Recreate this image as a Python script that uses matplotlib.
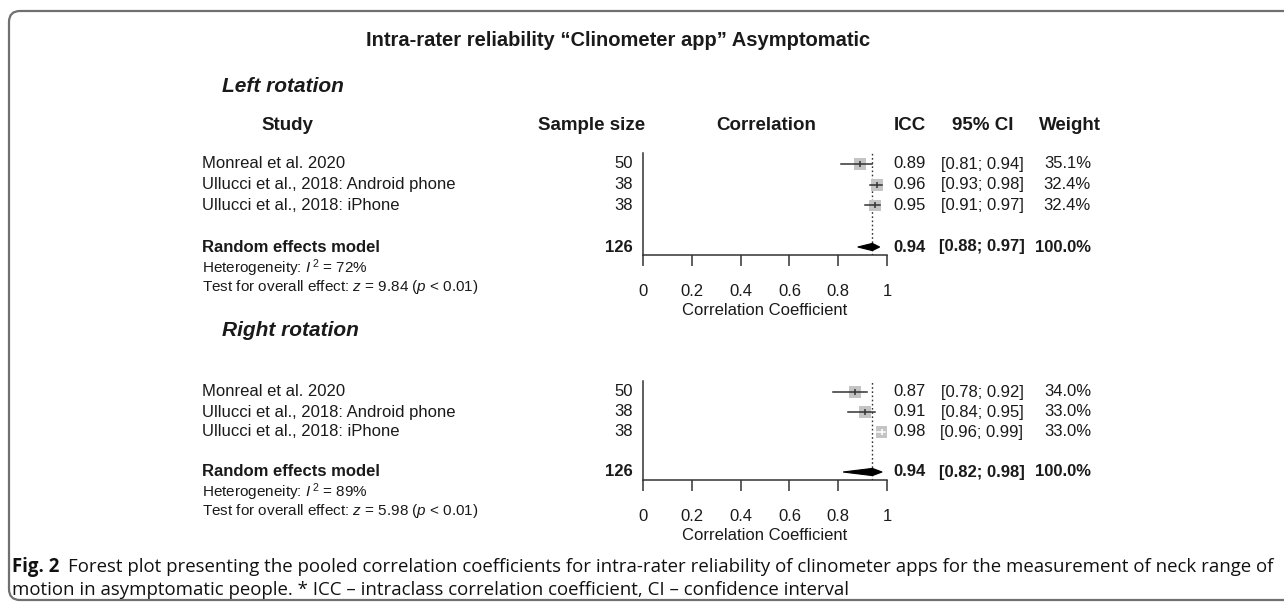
import numpy as np
import matplotlib.pyplot as plt
from matplotlib.patches import FancyBboxPatch, Polygon

plt.rcParams['font.family'] = ['Liberation Sans', 'DejaVu Sans']
plt.rcParams['mathtext.fontset'] = 'custom'
plt.rcParams['mathtext.rm'] = 'Liberation Sans'
plt.rcParams['mathtext.it'] = 'Liberation Sans:italic'

# data
studies = ["Monreal et al. 2020", "Ullucci et al., 2018: Android phone", "Ullucci et al., 2018: iPhone"]

n_left = [50, 38, 38]
icc_left = [0.89, 0.96, 0.95]
lo_left = [0.81, 0.93, 0.91]
hi_left = [0.94, 0.98, 0.97]
w_left = [35.1, 32.4, 32.4]
pooled_left = [0.94, 0.88, 0.97]
i2_left = 72
z_left = 9.84

n_right = [50, 38, 38]
icc_right = [0.87, 0.91, 0.98]
lo_right = [0.78, 0.84, 0.96]
hi_right = [0.92, 0.95, 0.99]
w_right = [34.0, 33.0, 33.0]
pooled_right = [0.94, 0.82, 0.98]
i2_right = 89
z_right = 5.98

total_weight = 100.0
ticks = [0, 0.2, 0.4, 0.6, 0.8, 1]
tick_labels = ["0", "0.2", "0.4", "0.6", "0.8", "1"]

W, H = 1284, 607
TXT = '#1a1a1a'
LINE = '#333333'
fig = plt.figure(figsize=(W / 100, H / 100), dpi=100)
bg = fig.add_axes([0, 0, 1, 1])
bg.set_xlim(0, W)
bg.set_ylim(H, 0)
bg.axis('off')

# rounded frame
box = FancyBboxPatch((9, 11), 1320, 589, boxstyle="round,pad=0,rounding_size=11",
                     fc='none', ec='#707070', lw=1.6)
bg.add_patch(box)

bg.text(618, 40, "Intra-rater reliability \u201cClinometer app\u201d Asymptomatic",
        ha='center', va='center', fontsize=14.5, fontweight='bold', color=TXT)


def section(name, name_y, base, s, n, est, lo, hi, w, pooled, i2, z, header):
    bg.text(222, name_y, name, fontsize=15, fontweight='bold', style='italic',
            va='center', color=TXT)
    row_y = lambda r: base + (r - 1) * s
    if header:
        hy = base - 39
        kw = dict(fontsize=13.5, fontweight='bold', va='center', color=TXT)
        bg.text(287, hy, "Study", ha='center', **kw)
        bg.text(645, hy, "Sample size", ha='right', **kw)
        bg.text(766, hy, "Correlation", ha='center', **kw)
        bg.text(910, hy, "ICC", ha='center', **kw)
        bg.text(983, hy, "95% CI", ha='center', **kw)
        bg.text(1070, hy, "Weight", ha='center', **kw)

    for i in range(len(studies)):
        y = row_y(i + 1)
        bg.text(202, y, studies[i], fontsize=12, va='center', color=TXT)
        bg.text(633, y, str(n[i]), fontsize=12, va='center', ha='right', color=TXT)
        bg.text(926, y, f"{est[i]:.2f}", fontsize=12, va='center', ha='right', color=TXT)
        bg.text(982, y, f"[{lo[i]:.2f}; {hi[i]:.2f}]", fontsize=12, va='center', ha='center', color=TXT)
        bg.text(1091, y, f"{w[i]:.1f}%", fontsize=12, va='center', ha='right', color=TXT)

    y = row_y(5)
    bk = dict(fontsize=12, fontweight='bold', va='center', color=TXT)
    bg.text(202, y, "Random effects model", **bk)
    bg.text(633, y, str(sum(n)), ha='right', **bk)
    bg.text(926, y, f"{pooled[0]:.2f}", ha='right', **bk)
    bg.text(982, y, f"[{pooled[1]:.2f}; {pooled[2]:.2f}]", ha='center', **bk)
    bg.text(1091, y, f"{total_weight:.1f}%", ha='right', **bk)
    bg.text(202, row_y(6), rf"Heterogeneity: $I^{{\,2}}$ = {i2}%", fontsize=11, va='center', color=TXT)
    bg.text(202, row_y(6.95), rf"Test for overall effect: $z$ = {z:.2f} ($p$ < 0.01)",
            fontsize=11, va='center', color=TXT)

    # forest panel
    top = row_y(0.45)
    bot = row_y(5.4)
    ax = fig.add_axes([643 / W, 1 - bot / H, 244 / W, (bot - top) / H])
    ax.patch.set_alpha(0)
    ax.set_xlim(0, 1)
    ax.set_ylim(5.4, 0.45)
    for sp in ['top', 'right']:
        ax.spines[sp].set_visible(False)
    for sp in ['left', 'bottom']:
        ax.spines[sp].set_color(LINE)
        ax.spines[sp].set_linewidth(1.1)
    ax.set_yticks([])
    ax.set_xticks(ticks)
    ax.set_xticklabels(tick_labels)
    ax.tick_params(axis='x', length=8, width=1.1, color=LINE, pad=13, labelsize=12, labelcolor=TXT)
    ax.set_xlabel("Correlation Coefficient", fontsize=12, labelpad=2.5, color=TXT)

    ax.axvline(pooled[0], color=LINE, ls=(0, (1.2, 1.8)), lw=1)
    rows = np.arange(1, len(est) + 1)
    side = 12 * np.sqrt(np.array(w) / 35.1)
    ax.scatter(est, rows, marker='s', s=(side * 0.72) ** 2, c='#c4c4c4', linewidths=0, zorder=2)
    for i in range(len(est)):
        col = 'white' if (hi[i] - lo[i]) * 244 < side[i] else LINE
        ax.plot([lo[i], hi[i]], [rows[i], rows[i]], color=col, lw=1.1, zorder=3)
        ax.plot([est[i]], [rows[i]], marker='|', ms=5, color=col, mew=1.1, zorder=3)
    h = 3.6 / s
    ax.add_patch(Polygon([[pooled[1], 5], [pooled[0], 5 - h], [pooled[2], 5], [pooled[0], 5 + h]],
                         closed=True, fc='black', ec='black', lw=0.8, zorder=4))


section("Left rotation", 86, 164, 20.75, n_left, icc_left, lo_left, hi_left, w_left,
        pooled_left, i2_left, z_left, True)
section("Right rotation", 331, 392, 20, n_right, icc_right, lo_right, hi_right, w_right,
        pooled_right, i2_right, z_right, False)

# caption
cap_font = ['Open Sans', 'DejaVu Sans']
f2 = bg.text(12, 567, "Fig. 2", fontsize=11, fontweight='bold', family=cap_font, va='center', color='#111')
c1 = bg.text(68, 567, "Forest plot presenting the pooled correlation coefficients for intra-rater reliability "
             "of clinometer apps for the measurement of neck range of",
             fontsize=11, family=cap_font, va='center', color='#111')
c2 = bg.text(12, 590, "motion in asymptomatic people. * ICC \u2013 intraclass correlation coefficient, "
             "CI \u2013 confidence interval", fontsize=11, family=cap_font, va='center', color='#111')

# fit the first caption line to the frame width
r = fig.canvas.get_renderer()
wpx = c1.get_window_extent(r).width
k = (1272 - 68) / wpx
for t in (f2, c1, c2):
    t.set_fontsize(11 * k)

fig.savefig("out.png", dpi=100)
